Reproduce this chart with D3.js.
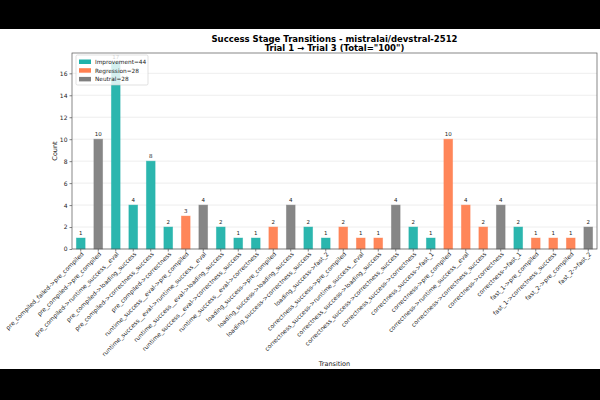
<!DOCTYPE html>
<html>
<head>
<meta charset="utf-8">
<script src="https://cdn.jsdelivr.net/npm/d3@7"></script>
<style>
  body { margin: 0; background: #000; }
  svg { display: block; font-family: "DejaVu Sans", sans-serif; }
</style>
</head>
<body>
<div id="chart"></div>
<script>
// transitions and their counts
let transitions = [
  'pre_compiled_failed->pre_compiled', 'pre_compiled->pre_compiled', 'pre_compiled->runtime_success__eval',
  'pre_compiled->loading_success', 'pre_compiled->correctness_success', 'pre_compiled->correctness',
  'runtime_success__eval->pre_compiled', 'runtime_success__eval->runtime_success__eval',
  'runtime_success__eval->loading_success', 'runtime_success__eval->correctness_success',
  'runtime_success__eval->correctness', 'loading_success->pre_compiled', 'loading_success->loading_success',
  'loading_success->correctness_success', 'loading_success->fast_2', 'correctness_success->pre_compiled',
  'correctness_success->runtime_success__eval', 'correctness_success->loading_success',
  'correctness_success->correctness_success', 'correctness_success->correctness', 'correctness_success->fast_1',
  'correctness->pre_compiled', 'correctness->runtime_success__eval', 'correctness->correctness_success',
  'correctness->correctness', 'correctness->fast_1', 'fast_1->pre_compiled', 'fast_1->correctness_success',
  'fast_2->pre_compiled', 'fast_2->fast_2'
];
let counts = [1, 10, 17, 4, 8, 2, 3, 4, 2, 1, 1, 2, 4, 2, 1, 2, 1, 1, 4, 2, 1, 10, 4, 2, 4, 2, 1, 1, 1, 2];
// I = improvement, R = regression, N = neutral
let kinds = ['I','N','I','I','I','I','R','N','I','I','I','R','N','I','I','R','R','R','N','I','I','R','R','R','N','I','R','R','R','N'];
let legendNames = ['Improvement', 'Regression', 'Neutral'];
let legendKeys = ['I', 'R', 'N'];
let yTicks = [0, 2, 4, 6, 8, 10, 12, 14, 16];
let colors = {I: '#20b2aa', R: '#ff7f50', N: '#7f7f7f'};

let width = 600, height = 400;
let top0 = 29, bot0 = 369;   // white figure area (letterboxed)
let m = {left: 72, right: 597, top: 53, bottom: 249};

let data = transitions.map((t, i) => ({name: t, count: counts[i], kind: kinds[i]}));

let svg = d3.select("#chart").append("svg")
  .attr('width', width)
  .attr('height', height);

svg.append("rect").attr("x", 0).attr("y", 0).attr("width", width).attr("height", height).attr("fill", "#000");
svg.append("rect").attr("x", 0).attr("y", top0).attr("width", width).attr("height", bot0 - top0).attr("fill", "#fff");

const x = d3.scaleBand()
  .domain(transitions)
  .range([m.left, m.right])
  .paddingInner(0.5)
  .paddingOuter(0.25);

const y = d3.scaleLinear()
  .domain([0, d3.max(counts) * 1.05])
  .range([m.bottom, m.top]);

// grid
svg.append("g")
  .selectAll("line")
  .data(yTicks)
  .enter()
  .append("line")
  .attr("x1", m.left).attr("x2", m.right)
  .attr("y1", d => y(d)).attr("y2", d => y(d))
  .attr("stroke", "#e6e6e6")
  .attr("stroke-width", 0.7);

// bars
const bars = svg.append("g");
bars.selectAll("rect")
  .data(data)
  .enter()
  .append("rect")
  .attr("x", d => x(d.name))
  .attr("y", d => y(d.count))
  .attr("width", x.bandwidth())
  .attr("height", d => y(0) - y(d.count))
  .attr("fill", d => colors[d.kind])
  .attr("fill-opacity", 0.95)
  .attr("stroke", d => colors[d.kind])
  .attr("stroke-opacity", 0.5)
  .attr("stroke-width", 0.8);

bars.selectAll("text")
  .data(data)
  .enter()
  .append("text")
  .attr("x", d => x(d.name) + x.bandwidth() / 2)
  .attr("y", d => y(d.count) - 3)
  .attr("text-anchor", "middle")
  .attr("font-size", "5.5px")
  .attr("fill", "#222")
  .text(d => d.count);

// axes
const yAxis = svg.append("g")
  .attr("transform", "translate(" + m.left + ",0)")
  .call(d3.axisLeft(y).tickValues(yTicks).tickSize(2.5).tickPadding(2));
yAxis.select(".domain").remove();
yAxis.selectAll("text").attr("font-size", "6px").attr("font-family", "DejaVu Sans").attr("fill", "#222");
yAxis.selectAll("line").attr("stroke", "#333").attr("stroke-width", 0.6);

const xAxis = svg.append("g")
  .attr("transform", "translate(0," + m.bottom + ")")
  .call(d3.axisBottom(x).tickSize(2.5).tickPadding(2));
xAxis.select(".domain").remove();
xAxis.selectAll("line").attr("stroke", "#333").attr("stroke-width", 0.6);
xAxis.selectAll("text")
  .attr("font-size", "6px")
  .attr("font-family", "DejaVu Sans")
  .attr("fill", "#222")
  .attr("text-anchor", "end")
  .attr("dy", "0.35em")
  .attr("transform", "translate(2,4) rotate(-45)")
  .attr("y", 0)
  .attr("x", 0);

// frame
svg.append("rect")
  .attr("x", m.left).attr("y", m.top)
  .attr("width", m.right - m.left).attr("height", m.bottom - m.top)
  .attr("fill", "none")
  .attr("stroke", "#555")
  .attr("stroke-width", 0.7);

// titles
const cx = (m.left + m.right) / 2;
svg.append("text").attr("x", cx).attr("y", 41.5)
  .attr("text-anchor", "middle").attr("font-weight", "bold").attr("font-size", "8.5px")
  .text("Success Stage Transitions - mistralai/devstral-2512");
svg.append("text").attr("x", cx).attr("y", 50.5)
  .attr("text-anchor", "middle").attr("font-weight", "bold").attr("font-size", "8.5px")
  .text("Trial 1 \u2192 Trial 3 (Total=\"100\")");

svg.append("text")
  .attr("transform", "translate(57," + ((m.top + m.bottom) / 2) + ") rotate(-90)")
  .attr("text-anchor", "middle").attr("font-size", "6.5px").attr("fill", "#222")
  .text("Count");
svg.append("text").attr("x", cx).attr("y", 366)
  .attr("text-anchor", "middle").attr("font-size", "6.5px").attr("fill", "#222")
  .text("Transition");

// legend
const totals = legendKeys.map(k => d3.sum(data.filter(d => d.kind === k), d => d.count));
const lg = svg.append("g").attr("transform", "translate(76,55)");
lg.append("rect")
  .attr("width", 72).attr("height", 30).attr("rx", 1.5)
  .attr("fill", "#fff").attr("fill-opacity", 0.8)
  .attr("stroke", "#ccc").attr("stroke-width", 0.6);
legendKeys.forEach((k, i) => {
  lg.append("rect")
    .attr("x", 3).attr("y", 4.5 + i * 8.7)
    .attr("width", 12).attr("height", 4.5)
    .attr("fill", colors[k]);
  lg.append("text")
    .attr("x", 19).attr("y", 8.8 + i * 8.7)
    .attr("font-size", "5.8px").attr("fill", "#222")
    .text(legendNames[i] + "=" + totals[i]);
});
</script>
</body>
</html>
